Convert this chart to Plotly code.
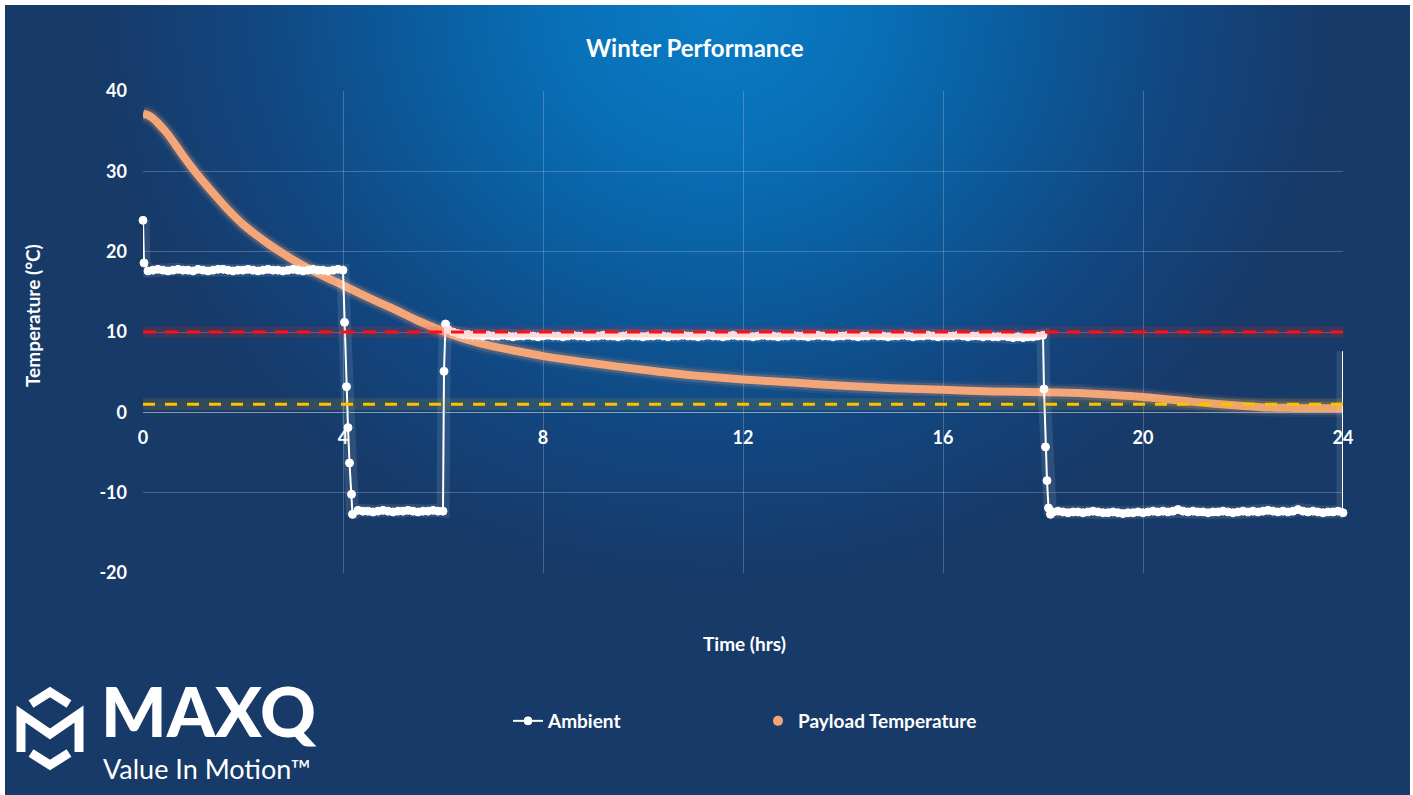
import base64
import numpy as np
import plotly.graph_objects as go

# ---------------- data ----------------
# Ambient chamber profile (°C): plateaus logged every 0.1 h, ramps logged densely
amb_start_t = [0.0, 0.02]
amb_start_v = [23.9, 18.6]

amb_hold1_v = [17.6, 17.7, 17.8, 17.7, 17.6, 17.7, 17.8, 17.7, 17.7, 17.6,
               17.8, 17.7, 17.6, 17.7, 17.8, 17.8, 17.7, 17.6, 17.7, 17.7,
               17.8, 17.7, 17.6, 17.7, 17.8, 17.7, 17.7, 17.6, 17.7, 17.8,
               17.7, 17.6, 17.7, 17.8, 17.7, 17.7, 17.6, 17.7, 17.8, 17.7]

amb_ramp1_t = [4.03, 4.07, 4.10, 4.13, 4.17, 4.19]
amb_ramp1_v = [11.2, 3.2, -1.9, -6.3, -10.2, -12.7]

amb_hold2_v = [-12.2, -12.3, -12.3, -12.4, -12.3, -12.2, -12.3, -12.4, -12.3,
               -12.3, -12.2, -12.3, -12.4, -12.3, -12.3, -12.2, -12.3, -12.3]

amb_ramp2_t = [6.02, 6.05]
amb_ramp2_v = [5.1, 11.0]

amb_hold3_v = [10.3, 10.0, 9.8, 9.7, 9.7, 9.6, 9.6, 9.5, 9.6, 9.5,
               9.5, 9.6, 9.5, 9.4, 9.5, 9.5, 9.6, 9.5, 9.4, 9.5,
               9.6, 9.5, 9.5, 9.4, 9.5, 9.6, 9.5, 9.5, 9.4, 9.5,
               9.5, 9.6, 9.5, 9.5, 9.4, 9.5, 9.6, 9.5, 9.5, 9.4,
               9.5, 9.5, 9.6, 9.5, 9.4, 9.5, 9.5, 9.6, 9.5, 9.5,
               9.4, 9.5, 9.6, 9.5, 9.5, 9.4, 9.5, 9.6, 9.5, 9.5,
               9.5, 9.4, 9.5, 9.6, 9.5, 9.5, 9.4, 9.5, 9.5, 9.6,
               9.5, 9.5, 9.4, 9.5, 9.6, 9.5, 9.5, 9.4, 9.5, 9.5,
               9.6, 9.5, 9.4, 9.5, 9.5, 9.6, 9.5, 9.5, 9.4, 9.5,
               9.5, 9.6, 9.5, 9.4, 9.5, 9.5, 9.6, 9.5, 9.4, 9.5,
               9.5, 9.5, 9.6, 9.5, 9.4, 9.5, 9.5, 9.4, 9.5, 9.4,
               9.4, 9.5, 9.4, 9.3, 9.4, 9.3, 9.4, 9.4, 9.5, 9.6]

amb_ramp3_t = [18.02, 18.05, 18.08, 18.11, 18.15]
amb_ramp3_v = [2.9, -4.3, -8.5, -11.9, -12.7]

amb_hold4_v = [-12.4, -12.3, -12.4, -12.5, -12.4, -12.4, -12.5, -12.4, -12.3, -12.4,
               -12.5, -12.5, -12.4, -12.5, -12.6, -12.5, -12.5, -12.4, -12.5, -12.4,
               -12.3, -12.4, -12.3, -12.4, -12.3, -12.1, -12.3, -12.4, -12.3, -12.4,
               -12.4, -12.5, -12.4, -12.4, -12.3, -12.4, -12.5, -12.4, -12.3, -12.4,
               -12.3, -12.4, -12.3, -12.2, -12.3, -12.4, -12.3, -12.4, -12.3, -12.1,
               -12.3, -12.4, -12.3, -12.4, -12.5, -12.4, -12.4, -12.3, -12.5]

amb_end_t = [24.0]
amb_end_v = [7.6]

# Payload temperature (°C)
pay_t = [0, 0.1, 0.2, 0.3, 0.5, 0.75, 1.0, 1.25, 1.5, 1.75, 2.0, 2.5, 3.0, 3.5,
         4.0, 4.5, 5.0, 5.5, 6.0, 6.5, 7.0, 7.5, 8.0, 9.0, 10.0, 11.0, 12.0,
         13.0, 14.0, 15.0, 16.0, 17.0, 18.0, 18.7, 19.0, 20.0, 21.0, 22.0,
         22.5, 23.0, 24.0]
pay_v = [37.2, 37.0, 36.6, 36.0, 34.6, 32.4, 30.3, 28.4, 26.6, 24.9, 23.4,
         21.0, 19.0, 17.3, 15.8, 14.3, 12.9, 11.4, 10.1, 9.0, 8.2, 7.6, 7.0,
         6.1, 5.3, 4.6, 4.1, 3.7, 3.3, 3.0, 2.8, 2.6, 2.5, 2.4, 2.3, 1.9, 1.3,
         0.8, 0.6, 0.55, 0.5]

upper_limit = 10
lower_limit = 1

x_ticks = [0, 4, 8, 12, 16, 20, 24]
y_ticks = [-20, -10, 0, 10, 20, 30, 40]
y_ticktext = ["-20", "-10", "0", "10", "20", "30", "40"]

# plateau sampling grid (0.1 h logger interval)
hold1_t = list(np.round(np.arange(1, 41) * 0.1, 2))
hold2_t = list(np.round(np.arange(43, 61) * 0.1, 2))
hold3_t = list(np.round(np.arange(61, 181) * 0.1, 2))
hold4_t = list(np.round(np.arange(182, 241) * 0.1, 2))

amb_t = (amb_start_t + hold1_t + amb_ramp1_t + hold2_t + amb_ramp2_t
         + hold3_t + amb_ramp3_t + hold4_t + amb_end_t)
amb_v = (amb_start_v + amb_hold1_v + amb_ramp1_v + amb_hold2_v + amb_ramp2_v
         + amb_hold3_v + amb_ramp3_v + amb_hold4_v + amb_end_v)
amb_msize = [8] * (len(amb_t) - 1) + [0]

# ---------------- geometry ----------------
W, H = 1413, 795
PL, PR, PT, PB = 143, 1343, 91, 573


def fx(px):
    return (px - PL) / (PR - PL)


def fy(py):
    return (PB - py) / (PB - PT)


FONT = "Lato"
WHITE = "#ffffff"
ORANGE = "#f4a679"

fig = go.Figure()

# payload glow + series
for w, a in [(18, 0.08), (13, 0.2)]:
    fig.add_trace(go.Scatter(x=pay_t, y=pay_v, mode="lines", showlegend=False,
                             hoverinfo="skip", cliponaxis=False,
                             line=dict(color=f"rgba(244,166,121,{a})", width=w,
                                       shape="spline", smoothing=0.6)))
fig.add_trace(go.Scatter(x=pay_t, y=pay_v, mode="lines", showlegend=False,
                         name="Payload Temperature", cliponaxis=False,
                         line=dict(color=ORANGE, width=8, shape="spline", smoothing=0.6)))

# ambient glow + series
fig.add_trace(go.Scatter(x=amb_t, y=amb_v, mode="lines", showlegend=False,
                         hoverinfo="skip", cliponaxis=False,
                         line=dict(color="rgba(255,255,255,0.10)", width=13)))
fig.add_trace(go.Scatter(x=amb_t, y=amb_v, mode="lines+markers", name="Ambient",
                         cliponaxis=False,
                         line=dict(color=WHITE, width=2),
                         marker=dict(color=WHITE, size=amb_msize, opacity=1)))

# legend entry for payload (marker only)
fig.add_trace(go.Scatter(x=[None], y=[None], mode="markers", name="Payload Temperature",
                         marker=dict(color=ORANGE, size=10)))

# limit lines with glow
fig.add_trace(go.Scatter(x=[0, 24], y=[upper_limit] * 2, mode="lines", showlegend=False,
                         hoverinfo="skip",
                         line=dict(color="rgba(255,30,30,0.16)", width=11)))
fig.add_trace(go.Scatter(x=[0, 24], y=[upper_limit] * 2, mode="lines", showlegend=False,
                         line=dict(color="#ff1010", width=3, dash="13px,9px")))
fig.add_trace(go.Scatter(x=[0, 24], y=[lower_limit] * 2, mode="lines", showlegend=False,
                         hoverinfo="skip",
                         line=dict(color="rgba(190,170,30,0.16)", width=12)))
fig.add_trace(go.Scatter(x=[0, 24], y=[lower_limit] * 2, mode="lines", showlegend=False,
                         line=dict(color="#ffc000", width=3, dash="12px,10px")))

# background: radial blue glow on navy
svg = """<svg xmlns="http://www.w3.org/2000/svg" width="1405" height="790" viewBox="0 0 1405 790" preserveAspectRatio="none">
<defs><radialGradient id="g" gradientUnits="userSpaceOnUse" cx="0" cy="0" r="1" gradientTransform="translate(712 0) scale(620 580)">
<stop offset="0" stop-color="#0a7cc6"/>
<stop offset="0.25" stop-color="#0870b7"/>
<stop offset="0.5" stop-color="#0b5b9c"/>
<stop offset="0.75" stop-color="#124680"/>
<stop offset="1" stop-color="#173a68"/>
</radialGradient></defs>
<rect width="1405" height="790" fill="#173a68"/>
<rect width="1405" height="790" fill="url(#g)"/>
</svg>"""
bg_src = "data:image/svg+xml;base64," + base64.b64encode(svg.encode()).decode()


# logo mark
def path(points):
    return "M " + " L ".join(f"{fx(x):.5f} {fy(y):.5f}" for x, y in points)


logo_paths = [
    [(31, 704), (50, 692), (69, 704)],
    [(21, 752), (21, 714), (50, 734), (79, 714), (79, 752)],
    [(31, 753), (50, 765), (69, 753)],
]
shapes = [dict(type="path", xref="paper", yref="paper", path=path(p),
               line=dict(color=WHITE, width=9)) for p in logo_paths]


def label(text, px, py, size, xanchor="center", yanchor="middle", angle=0, weight="normal"):
    return dict(text=text, x=fx(px), y=fy(py), xref="paper", yref="paper",
                xanchor=xanchor, yanchor=yanchor, showarrow=False, textangle=angle,
                borderpad=0, font=dict(family=FONT, size=size, color=WHITE, weight=weight))


annotations = [
    label("Winter Performance", 695, 47, 24, weight="bold"),
    label("Temperature (°C)", 32, 316, 19, angle=-90, weight="bold"),
    label("Time (hrs)", 744, 643, 19, weight="bold"),
    label("MAXQ", 100, 711, 69, xanchor="left", weight=900),
    label("Value In Motion™", 102, 768, 27, xanchor="left"),
]

grid = "rgba(175,190,210,0.33)"
tickfont = dict(family=FONT, size=18, color=WHITE, weight="bold")
fig.update_layout(
    width=W, height=H,
    margin=dict(l=PL, r=W - PR, t=PT, b=H - PB),
    paper_bgcolor="#ffffff",
    plot_bgcolor="rgba(0,0,0,0)",
    images=[dict(source=bg_src, xref="paper", yref="paper", x=fx(5), y=fy(5),
                 sizex=1405 / (PR - PL), sizey=790 / (PB - PT), xanchor="left",
                 yanchor="top", sizing="stretch", layer="below")],
    shapes=shapes,
    annotations=annotations,
    showlegend=True,
    legend=dict(orientation="h", x=fx(508), xanchor="left", y=fy(721), yanchor="middle",
                font=dict(family=FONT, size=19, color=WHITE, weight="bold"),
                bgcolor="rgba(0,0,0,0)", entrywidth=205, entrywidthmode="pixels"),
    xaxis=dict(range=[0, 24], tickmode="array", tickvals=x_ticks,
               showgrid=True, gridcolor=grid, gridwidth=1, zeroline=False,
               showline=True, linecolor="rgba(190,200,215,0.55)", linewidth=1,
               anchor="free", position=1 / 3, ticks="", ticklabelstandoff=9,
               tickfont=tickfont),
    yaxis=dict(range=[-20, 40], tickmode="array", tickvals=y_ticks, ticktext=y_ticktext,
               showgrid=True, gridcolor=grid, gridwidth=1, zeroline=False,
               showline=False, ticks="", ticklabelstandoff=15,
               tickfont=tickfont),
)

fig.write_html("out.html")
